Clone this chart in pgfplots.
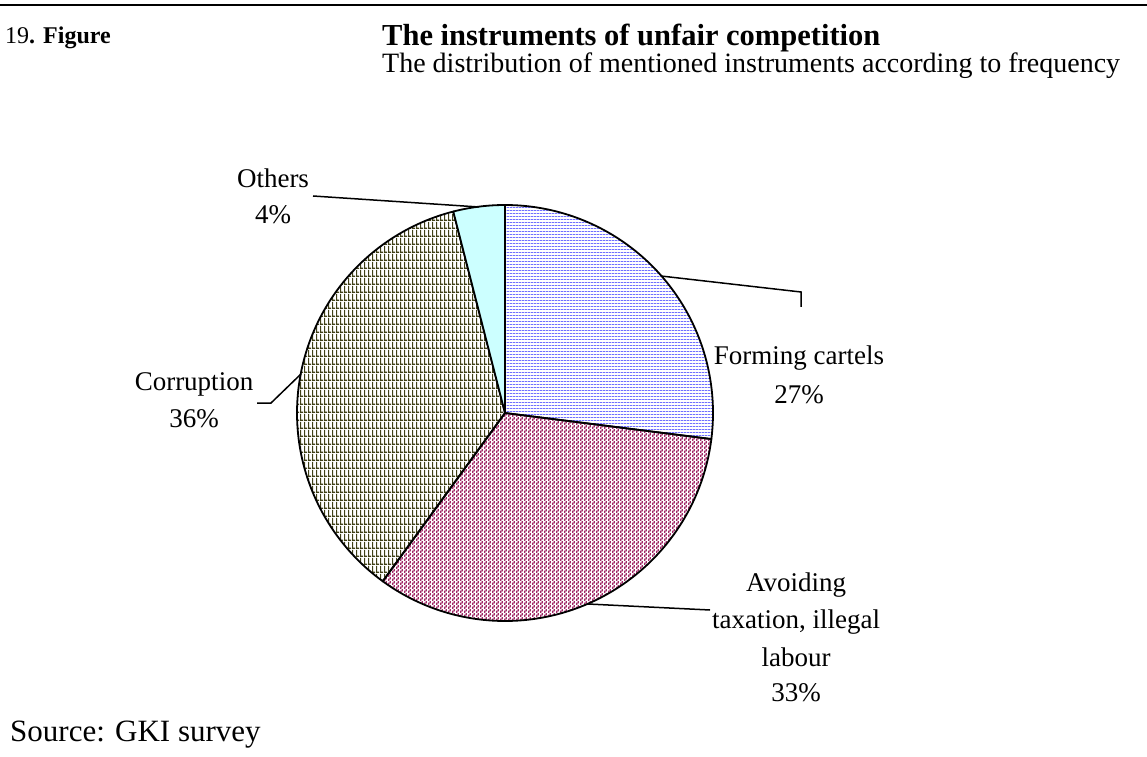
\documentclass[border=0pt]{standalone}
\usepackage{fontspec}
\setmainfont{Liberation Serif}
\usepackage{pgfplots}
\pgfplotsset{compat=1.18}
\usetikzlibrary{patterns}
\definecolor{cartelblue}{HTML}{7070FF}
\definecolor{taxpink}{HTML}{A02866}
\definecolor{corrolive}{HTML}{404018}
\definecolor{othcyan}{HTML}{CCFFFF}
\pgfdeclarepatternformonly{hlinesthree}{\pgfpointorigin}{\pgfqpoint{3pt}{3pt}}{\pgfqpoint{3pt}{3pt}}{%
  \pgfpathrectangle{\pgfqpoint{0pt}{0pt}}{\pgfqpoint{3pt}{1pt}}\pgfusepath{fill}}
\pgfdeclarepatternformonly{olivegrid}{\pgfpointorigin}{\pgfqpoint{4pt}{8pt}}{\pgfqpoint{4pt}{8pt}}{%
  \pgfpathrectangle{\pgfqpoint{0pt}{0pt}}{\pgfqpoint{1.3pt}{8pt}}%
  \pgfpathrectangle{\pgfqpoint{0pt}{0pt}}{\pgfqpoint{4pt}{1.6pt}}\pgfusepath{fill}}
\pgfdeclarepatternformonly{pinkdash}{\pgfpointorigin}{\pgfqpoint{4pt}{4pt}}{\pgfqpoint{4pt}{4pt}}{%
  \pgfpathrectangle{\pgfqpoint{0pt}{0pt}}{\pgfqpoint{1.6pt}{2.8pt}}%
  \pgfpathrectangle{\pgfqpoint{2pt}{2pt}}{\pgfqpoint{1.6pt}{2.8pt}}\pgfusepath{fill}}
% slice: value (percent), style
\newcommand\pieslice[2]{%
  \pgfmathsetmacro\aend{\astart-#1*3.6}%
  \edef\next{\noexpand\addplot[\unexpanded{#2}, domain=\aend:\astart, samples=150] ({208*cos(x)},{208*sin(x)}) -- (0,0) -- cycle;}%
  \next
  \global\let\astart\aend}
\begin{document}
\begin{tikzpicture}[x=1pt,y=1pt]
\useasboundingbox (0,0) rectangle (1147,756);
\draw[line width=2.5pt] (0,751) -- (1147,751);
\node[anchor=base west, inner sep=0, font=\fontsize{24}{28}\selectfont] at (5,712) {19\textbf{. Figure}};
\node[anchor=base west, inner sep=0, font=\fontsize{30.5}{34}\selectfont\bfseries] at (382,710) {The instruments of unfair competition};
\node[anchor=base west, inner sep=0, font=\fontsize{28}{32}\selectfont] at (382,683) {The distribution of mentioned instruments according to frequency};
\def\astart{90}
\begin{axis}[at={(505pt,343pt)}, anchor=center, x=1pt, y=1pt,
  xmin=-208, xmax=208, ymin=-208, ymax=208, hide axis, clip=false]
\pieslice{27}{draw=black, line width=1.8pt, line join=round, pattern=hlinesthree, pattern color=cartelblue}
\pieslice{33}{draw=black, line width=1.8pt, line join=round, pattern=pinkdash, pattern color=taxpink}
\pieslice{36}{draw=black, line width=1.8pt, line join=round, pattern=olivegrid, pattern color=corrolive}
\pieslice{4}{draw=black, line width=1.8pt, line join=round, fill=othcyan}
\end{axis}
% leader lines
\draw[line width=1.5pt] (313,560) -- (479,549);
\draw[line width=1.5pt] (661,480) -- (801,464) -- (801,449);
\draw[line width=1.5pt] (301,382) -- (271,353) -- (257,353);
\draw[line width=1.5pt] (588,152) -- (710,146);
% labels
\begin{scope}[every node/.style={font=\fontsize{27}{32}\selectfont, inner sep=0, anchor=center}]
\node at (273,578) {Others};
\node at (273,541) {4\%};
\node at (799,398) {Forming cartels};
\node at (799,361) {27\%};
\node at (194,372) {Corruption};
\node at (194,337) {36\%};
\node at (796,171) {Avoiding};
\node at (796,134) {taxation, illegal};
\node at (796,99) {labour};
\node at (796,63) {33\%};
\end{scope}
\node[anchor=base west, inner sep=0, font=\fontsize{31}{36}\selectfont] at (10,15) {Source: GKI survey};
\end{tikzpicture}
\end{document}
